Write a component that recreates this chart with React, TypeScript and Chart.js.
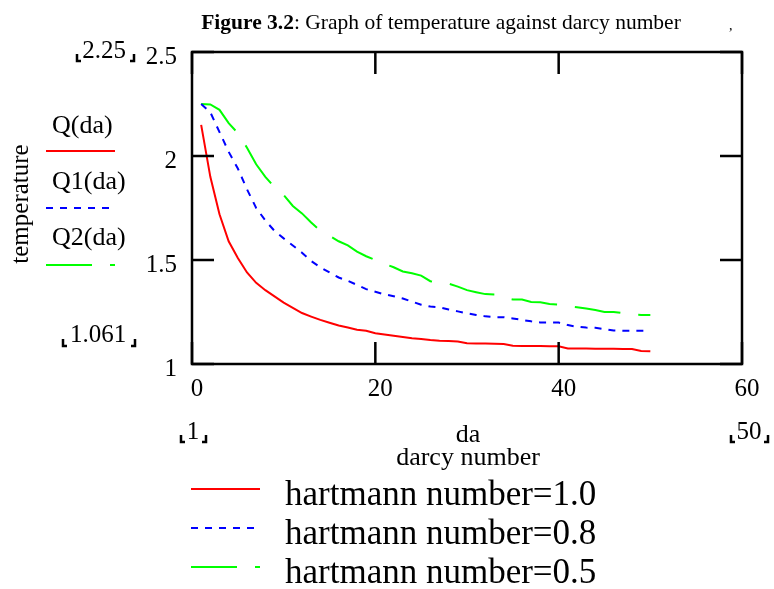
import React, { useEffect, useRef } from "react";
import { Chart, registerables } from "chart.js";

Chart.register(...registerables);

// ---- data ----
const da: number[] = [
  1, 2, 3, 4, 5, 6, 7, 8, 9, 10, 11, 12, 13, 14, 15, 16, 17, 18, 19, 20, 21, 22, 23, 24, 25,
  26, 27, 28, 29, 30, 31, 32, 33, 34, 35, 36, 37, 38, 39, 40, 41, 42, 43, 44, 45, 46, 47, 48, 49, 50,
];
const qH10: number[] = [
  2.15, 1.9, 1.72, 1.59, 1.51, 1.44, 1.39, 1.355, 1.325, 1.295, 1.27, 1.245, 1.228, 1.212, 1.198,
  1.185, 1.175, 1.165, 1.16, 1.148, 1.142, 1.136, 1.13, 1.124, 1.12, 1.115, 1.112, 1.11, 1.108,
  1.1, 1.099, 1.098, 1.097, 1.096, 1.088, 1.087, 1.086, 1.086, 1.085, 1.085, 1.075, 1.074, 1.074,
  1.073, 1.073, 1.073, 1.072, 1.072, 1.063, 1.061,
];
const qH08: number[] = [
  2.25, 2.21, 2.115, 2.02, 1.94, 1.84, 1.75, 1.69, 1.64, 1.604, 1.57, 1.535, 1.495, 1.465, 1.44,
  1.416, 1.4, 1.38, 1.36, 1.347, 1.335, 1.326, 1.315, 1.3, 1.285, 1.276, 1.273, 1.262, 1.253,
  1.244, 1.236, 1.229, 1.225, 1.225, 1.219, 1.212, 1.205, 1.2, 1.2, 1.199, 1.187, 1.179, 1.175,
  1.174, 1.168, 1.161, 1.16, 1.16, 1.16, 1.16,
];
const qH05: number[] = [
  2.25, 2.248, 2.222, 2.158, 2.11, 2.04, 1.96, 1.9, 1.85, 1.812, 1.76, 1.724, 1.68, 1.64, 1.617,
  1.59, 1.57, 1.54, 1.518, 1.5, 1.482, 1.465, 1.445, 1.436, 1.425, 1.398, 1.39, 1.386, 1.372,
  1.355, 1.345, 1.336, 1.334, 1.318, 1.31, 1.31, 1.298, 1.297, 1.288, 1.286, 1.278, 1.273, 1.267,
  1.26, 1.25, 1.25, 1.245, 1.238, 1.236, 1.236,
];

const xTicks: number[] = [0, 20, 40, 60];
const xTickLabels: string[] = ["0", "20", "40", "60"];
const yTicks: number[] = [1, 1.5, 2, 2.5];
const yTickLabels: string[] = ["1", "1.5", "2", "2.5"];
const seriesNames: string[] = ["Q(da)", "Q1(da)", "Q2(da)"];
const legendNames: string[] = ["hartmann number=1.0", "hartmann number=0.8", "hartmann number=0.5"];
const titleBold = "Figure 3.2";
const titleRest = ": Graph of temperature against darcy number";
const yAxisTitle = "temperature";
const xAxisVar = "da";
const xAxisTitle = "darcy number";
const yRangeLabels: string[] = ["2.25", "1.061"];
const xRangeLabels: string[] = ["1", "50"];

const SERIF = "'Liberation Serif', 'Times New Roman', serif";

function bracketLabel(ctx: CanvasRenderingContext2D, text: string, cx: number, cy: number, lx: number, rx: number, by: number) {
  ctx.save();
  ctx.font = `25px ${SERIF}`;
  ctx.fillStyle = "#000";
  ctx.textAlign = "center";
  ctx.textBaseline = "middle";
  ctx.fillText(text, cx, cy);
  ctx.strokeStyle = "#000";
  ctx.lineWidth = 2.5;
  ctx.beginPath();
  ctx.moveTo(lx, by - 7);
  ctx.lineTo(lx, by);
  ctx.lineTo(lx + 4, by);
  ctx.moveTo(rx, by - 7);
  ctx.lineTo(rx, by);
  ctx.lineTo(rx - 4, by);
  ctx.stroke();
  ctx.restore();
}

const decorPlugin = {
  id: "decor",
  afterDraw(chart: any) {
    const ctx: CanvasRenderingContext2D = chart.ctx;
    const a = chart.chartArea;
    const xs = chart.scales.x;
    const ys = chart.scales.y;
    ctx.save();
    // frame
    ctx.strokeStyle = "#000";
    ctx.lineWidth = 2.5;
    ctx.strokeRect(a.left, a.top, a.right - a.left, a.bottom - a.top);
    // inner ticks
    ctx.beginPath();
    xTicks.forEach((v) => {
      const px = xs.getPixelForValue(v);
      ctx.moveTo(px, a.bottom);
      ctx.lineTo(px, a.bottom - 22);
      ctx.moveTo(px, a.top);
      ctx.lineTo(px, a.top + 22);
    });
    yTicks.forEach((v) => {
      const py = ys.getPixelForValue(v);
      ctx.moveTo(a.left, py);
      ctx.lineTo(a.left + 22, py);
      ctx.moveTo(a.right, py);
      ctx.lineTo(a.right - 22, py);
    });
    ctx.stroke();

    // title
    ctx.fillStyle = "#000";
    ctx.textBaseline = "alphabetic";
    ctx.textAlign = "left";
    ctx.font = `bold 21.5px ${SERIF}`;
    const wb = ctx.measureText(titleBold).width;
    ctx.font = `21.5px ${SERIF}`;
    const wr = ctx.measureText(titleRest).width;
    const tx = 441 - (wb + wr) / 2;
    ctx.font = `bold 21.5px ${SERIF}`;
    ctx.fillText(titleBold, tx, 29);
    ctx.font = `21.5px ${SERIF}`;
    ctx.fillText(titleRest, tx + wb, 29);
    ctx.font = `14px ${SERIF}`;
    ctx.fillText(",", 729, 30);

    // y axis title
    ctx.save();
    ctx.translate(21, 204);
    ctx.rotate(-Math.PI / 2);
    ctx.font = `25px ${SERIF}`;
    ctx.textAlign = "center";
    ctx.textBaseline = "middle";
    ctx.fillText(yAxisTitle, 0, 0);
    ctx.restore();

    // x axis titles
    ctx.font = `26px ${SERIF}`;
    ctx.textAlign = "center";
    ctx.textBaseline = "middle";
    ctx.fillText(xAxisVar, 468, 435);
    ctx.fillText(xAxisTitle, 468, 458);

    // range markers
    bracketLabel(ctx, yRangeLabels[0], 104, 51, 77, 134, 61);
    bracketLabel(ctx, yRangeLabels[1], 98, 335, 63, 135, 346);
    bracketLabel(ctx, xRangeLabels[0], 193, 432, 181, 206, 442);
    bracketLabel(ctx, xRangeLabels[1], 749, 432, 731, 768, 442);

    // legends
    const ds = chart.data.datasets;
    const leftY = [151, 208, 265];
    const leftTextY = [126, 182, 238];
    const botY = [489, 528, 567];
    ds.forEach((d: any, i: number) => {
      ctx.save();
      ctx.strokeStyle = d.borderColor;
      ctx.lineWidth = d.borderWidth;
      ctx.setLineDash(d.borderDash || []);
      ctx.beginPath();
      ctx.moveTo(46, leftY[i]);
      ctx.lineTo(115, leftY[i]);
      ctx.stroke();
      ctx.beginPath();
      ctx.moveTo(191, botY[i]);
      ctx.lineTo(260, botY[i]);
      ctx.stroke();
      ctx.restore();
      ctx.fillStyle = "#000";
      ctx.font = `26px ${SERIF}`;
      ctx.textAlign = "left";
      ctx.textBaseline = "middle";
      ctx.fillText(seriesNames[i], 52, leftTextY[i]);
      ctx.font = `35px ${SERIF}`;
      ctx.fillText(legendNames[i], 285, botY[i] + 7);
    });
    ctx.restore();
  },
};

export default function App() {
  const ref = useRef<HTMLCanvasElement | null>(null);
  useEffect(() => {
    document.body.style.margin = "0";
    const canvas = ref.current;
    if (!canvas) return;
    const mk = (ys: number[]) => da.map((x, i) => ({ x, y: ys[i] }));
    const chart = new Chart(canvas, {
      type: "line",
      data: {
        datasets: [
          { label: legendNames[0], data: mk(qH10), borderColor: "#ff0000", borderWidth: 2, pointRadius: 0, fill: false, tension: 0 },
          { label: legendNames[1], data: mk(qH08), borderColor: "#0000ff", borderWidth: 2, borderDash: [7, 7], pointRadius: 0, fill: false, tension: 0 },
          { label: legendNames[2], data: mk(qH05), borderColor: "#00ff00", borderWidth: 2, borderDash: [46, 18], pointRadius: 0, fill: false, tension: 0 },
        ],
      },
      options: {
        animation: false,
        responsive: false,
        devicePixelRatio: 1,
        layout: { padding: { left: 0, right: 32, top: 52, bottom: 0 } },
        plugins: { legend: { display: false }, title: { display: false }, tooltip: { enabled: false } },
        scales: {
          x: {
            type: "linear",
            min: 0,
            max: 60,
            afterBuildTicks: (s: any) => {
              s.ticks = xTicks.map((v) => ({ value: v }));
            },
            afterFit: (s: any) => {
              s.height = 225;
            },
            grid: { display: false, drawTicks: false },
            border: { display: false },
            ticks: {
              color: "#000",
              font: { family: SERIF, size: 25 },
              padding: 10,
              labelOffset: 5,
              maxRotation: 0,
              autoSkip: false,
              callback: (v: any) => xTickLabels[xTicks.indexOf(Number(v))] ?? String(v),
            },
          },
          y: {
            type: "linear",
            min: 1,
            max: 2.5,
            afterBuildTicks: (s: any) => {
              s.ticks = yTicks.map((v) => ({ value: v }));
            },
            afterFit: (s: any) => {
              s.width = 192;
            },
            grid: { display: false, drawTicks: false },
            border: { display: false },
            ticks: {
              color: "#000",
              font: { family: SERIF, size: 25 },
              padding: 15,
              labelOffset: 5,
              autoSkip: false,
              callback: (v: any) => yTickLabels[yTicks.indexOf(Number(v))] ?? String(v),
            },
          },
        },
      },
      plugins: [decorPlugin],
    } as any);
    return () => chart.destroy();
  }, []);
  return (
    <div style={{ position: "absolute", left: 0, top: 0, width: 774, height: 589 }}>
      <canvas ref={ref} width={774} height={589} style={{ display: "block", width: 774, height: 589 }} />
    </div>
  );
}
